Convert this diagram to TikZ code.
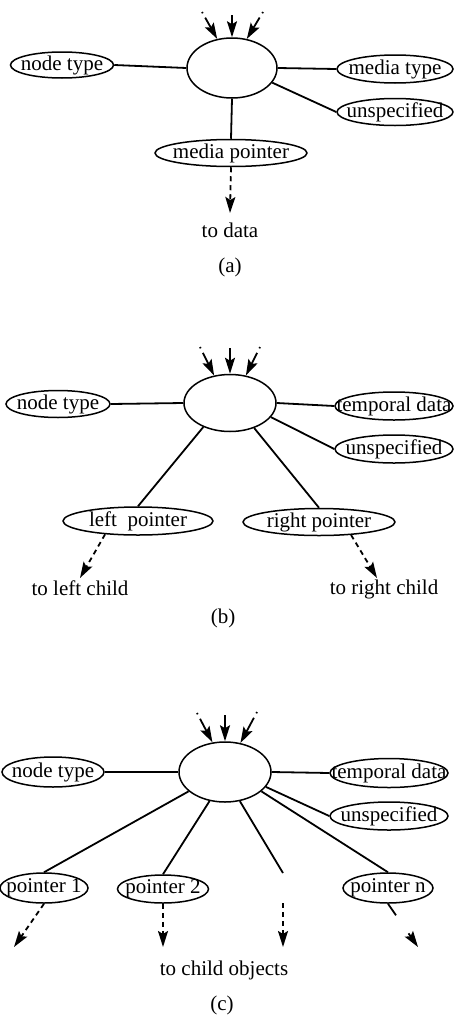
\documentclass[tikz,border=0pt]{standalone}
\usepackage{fontspec}
\setmainfont{Liberation Serif}
\usetikzlibrary{shapes.geometric,arrows.meta}
\begin{document}
\begin{tikzpicture}[x=1pt,y=-1pt,
  font=\fontsize{21}{25}\selectfont,
  oval/.style={ellipse,draw,line width=1.5pt,inner sep=0pt,fill=white},
  hub/.style={ellipse,draw,line width=1.5pt,inner sep=0pt},
  lbl/.style={inner sep=0pt},
  link/.style={line width=1.8pt},
  tip/.style={-{Stealth[length=16pt,width=10pt,inset=3pt]}},
  ptr/.style={tip,line width=1.8pt,dash pattern=on 5pt off 4pt},
  inside/.style={tip,line width=1.8pt,dash pattern=on 1.5pt off 5pt on 60pt},
  inmid/.style={tip,line width=1.8pt}]
\useasboundingbox (0,0) rectangle (455,1017);

% ---------------- (a) ----------------
\node[hub,minimum width=90pt,minimum height=60pt] (ca) at (232,68) {};
\node[oval,minimum width=103pt,minimum height=26pt,label={[lbl,anchor=center]center:node type}] (nta) at (62,65) {};
\node[oval,minimum width=116pt,minimum height=28pt,label={[lbl,anchor=center]center:media type}] (mta) at (395,69) {};
\node[oval,minimum width=116pt,minimum height=27pt,label={[lbl,anchor=center]center:unspecified}] (una) at (395,112) {};
\node[oval,minimum width=152pt,minimum height=27pt,label={[lbl,anchor=center]center:media pointer}] (mpa) at (231,153) {};
\node[lbl] (tda) at (230,230) {to data};
\node[lbl] (capa) at (230,267) {(a)};
\coordinate (ia1) at (202,12);
\coordinate (ia2) at (232,15);
\coordinate (ia3) at (263,12);
\coordinate (oa1) at (230,213);
\draw[link] (nta.east) -- (ca.west);
\draw[link] (ca.east) -- (mta.west);
\draw[link] (ca.340) -- (una.west);
\draw[link] (ca.south) -- (mpa.north);
\draw[ptr] (mpa.south) -- (oa1);
\draw[inside] (ia1) -- (ca.117);
\draw[inmid] (ia2) -- (ca.north);
\draw[inside] (ia3) -- (ca.63);

% ---------------- (b) ----------------
\node[hub,minimum width=92pt,minimum height=57pt] (cb) at (230,403) {};
\node[oval,minimum width=104pt,minimum height=27pt,label={[lbl,anchor=center]center:node type}] (ntb) at (58,404) {};
\node[oval,minimum width=118pt,minimum height=28pt,label={[lbl,anchor=center]center:temporal data}] (tdb) at (394,406) {};
\node[oval,minimum width=118pt,minimum height=28pt,label={[lbl,anchor=center]center:unspecified}] (unb) at (394,449) {};
\node[oval,minimum width=150pt,minimum height=28pt,label={[lbl,anchor=center]center:left~ pointer}] (lpb) at (138,521) {};
\node[oval,minimum width=152pt,minimum height=27pt,label={[lbl,anchor=center]center:right pointer}] (rpb) at (319,522) {};
\node[lbl] (tlb) at (80,588) {to left child};
\node[lbl] (trb) at (384,589) {to right child};
\node[lbl] (capb) at (223,618) {(b)};
\coordinate (ib1) at (200,347);
\coordinate (ib2) at (230,348);
\coordinate (ib3) at (260,347);
\coordinate (ob1) at (80,578);
\coordinate (ob2) at (377,578);
\draw[link] (ntb.east) -- (cb.west);
\draw[link] (cb.east) -- (tdb.west);
\draw[link] (cb.341) -- (unb.west);
\draw[link] (cb.222) -- (lpb.north);
\draw[link] (cb.314) -- (rpb.north);
\draw[ptr] (lpb.202) -- (ob1);
\draw[ptr] (rpb.338) -- (ob2);
\draw[inside] (ib1) -- (cb.120);
\draw[inmid] (ib2) -- (cb.north);
\draw[inside] (ib3) -- (cb.60);

% ---------------- (c) ----------------
\node[hub,minimum width=92pt,minimum height=60pt] (cc) at (225,772) {};
\node[oval,minimum width=102pt,minimum height=30pt,label={[lbl,anchor=center]center:node type}] (ntc) at (53,772) {};
\node[oval,minimum width=118pt,minimum height=29pt,label={[lbl,anchor=center]center:temporal data}] (tdc) at (389,773) {};
\node[oval,minimum width=118pt,minimum height=28pt,label={[lbl,anchor=center]center:unspecified}] (unc) at (389,816) {};
\node[oval,minimum width=88pt,minimum height=30pt,label={[lbl,anchor=center]center:pointer 1}] (p1c) at (44,888) {};
\node[oval,minimum width=91pt,minimum height=28pt,label={[lbl,anchor=center]center:pointer 2}] (p2c) at (163,889) {};
\node[oval,minimum width=90pt,minimum height=30pt,label={[lbl,anchor=center]center:pointer n}] (pnc) at (388,888) {};
\node[lbl] (toc) at (224,970) {to child objects};
\node[lbl] (capc) at (222,1005) {(c)};
\coordinate (ic1) at (197,713);
\coordinate (ic2) at (225,715);
\coordinate (ic3) at (257,712);
\coordinate (m3a) at (283,873);
\coordinate (m3b) at (283,903);
\coordinate (oc1) at (14,947);
\coordinate (oc2) at (163,947);
\coordinate (oc3) at (283,947);
\coordinate (oc4) at (418,947);
\draw[link] (ntc.east) -- (cc.west);
\draw[link] (cc.east) -- (tdc.west);
\draw[link] (cc.340) -- (unc.west);
\draw[link] (cc.208) -- (p1c.north);
\draw[link] (cc.242) -- (p2c.north);
\draw[link] (cc.297) -- (m3a);
\draw[link] (cc.332) -- (pnc.north);
\draw[ptr] (p1c.south) -- (oc1);
\draw[ptr] (p2c.south) -- (oc2);
\draw[ptr] (m3b) -- (oc3);
\draw[tip,line width=1.8pt,dash pattern=on 14pt off 22pt] (pnc.south) -- (oc4);
\draw[inside] (ic1) -- (cc.113);
\draw[inmid] (ic2) -- (cc.north);
\draw[inside] (ic3) -- (cc.62);
\end{tikzpicture}
\end{document}
